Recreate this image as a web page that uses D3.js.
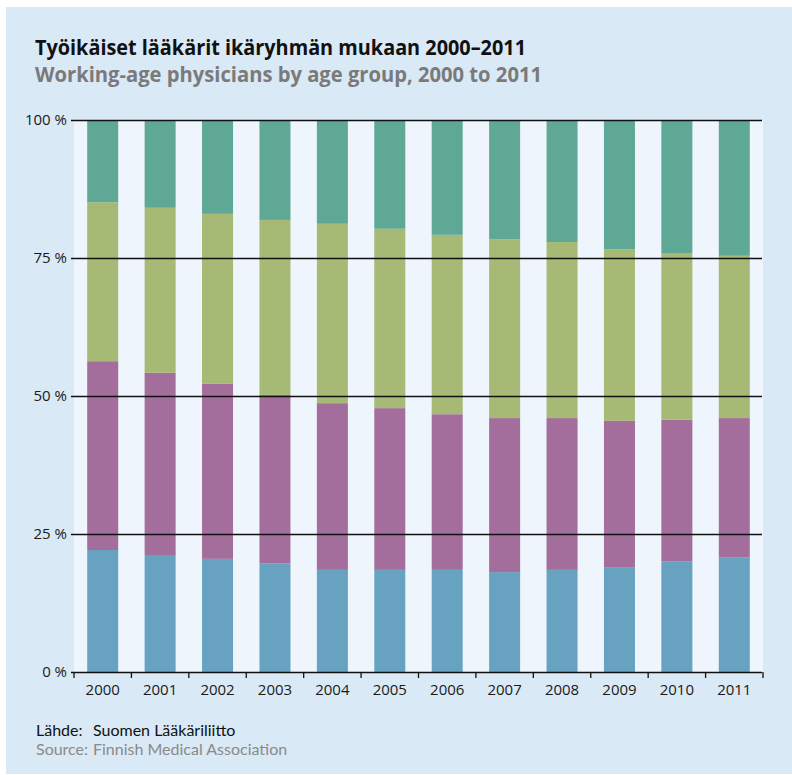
<!DOCTYPE html>
<html>
<head>
<meta charset="utf-8">
<script src="https://cdn.jsdelivr.net/npm/d3@7"></script>
<style>
  html, body { margin: 0; padding: 0; background: #ffffff; }
  svg { display: block; }
  text { font-family: "Open Sans", "Noto Sans", sans-serif; }
</style>
</head>
<body>
<svg id="chart" width="792" height="775"></svg>
<script>
// ---- data ----
const years = ["2000","2001","2002","2003","2004","2005","2006","2007","2008","2009","2010","2011"];
const seriesNames = ["group1", "group2", "group3", "group4"]; // bottom to top
const group1 = [22.1, 21.2, 20.5, 19.7, 18.5, 18.5, 18.5, 18.1, 18.5, 19.0, 20.0, 20.8];
const group2 = [34.2, 33.0, 31.7, 30.5, 30.2, 29.3, 28.2, 27.9, 27.5, 26.5, 25.7, 25.2];
const group3 = [28.8, 29.9, 30.8, 31.7, 32.5, 32.5, 32.5, 32.4, 31.9, 31.1, 30.2, 29.4];
const group4 = [14.9, 15.9, 17.0, 18.1, 18.8, 19.7, 20.8, 21.6, 22.1, 23.4, 24.1, 24.6];
const yTicks = [0, 25, 50, 75, 100];
const yTickLabels = ["0 %", "25 %", "50 %", "75 %", "100 %"];
const titleFi = "Työikäiset lääkärit ikäryhmän mukaan 2000–2011";
const titleEn = "Working-age physicians by age group, 2000 to 2011";
const sourceLabelFi = "Lähde:", sourceFi = "Suomen Lääkäriliitto";
const sourceLabelEn = "Source:", sourceEn = "Finnish Medical Association";

const colors = ["#67a3c0", "#a36e9b", "#a6b975", "#5ea895"];

// ---- build table ----
const table = years.map((yr, i) => ({
  year: yr, group1: group1[i], group2: group2[i], group3: group3[i], group4: group4[i]
}));
const stacked = d3.stack().keys(seriesNames)(table);

const svg = d3.select("#chart");

// panel background
svg.append("rect").attr("x", 6).attr("y", 7).attr("width", 786).attr("height", 767).attr("fill", "#d9e9f6");

const pLeft = 74, pRight = 763, pTop = 120, pBottom = 672;

// plot background
svg.append("rect").attr("x", pLeft).attr("y", pTop).attr("width", pRight - pLeft).attr("height", pBottom - pTop).attr("fill", "#eff5fd");

const x = d3.scaleBand().domain(years).range([pLeft, pRight]).paddingInner(0.46).paddingOuter(0.23);
const y = d3.scaleLinear().domain([0, 100]).range([pBottom, pTop]);

// bars
svg.append("g").selectAll("g").data(stacked).join("g")
  .attr("fill", (d, i) => colors[i])
  .selectAll("rect").data(d => d).join("rect")
  .attr("x", d => x(d.data.year))
  .attr("width", x.bandwidth())
  .attr("y", d => y(Math.min(100, d[1])))
  .attr("height", d => y(d[0]) - y(Math.min(100, d[1])));

// gridlines and y axis
const yAxis = d3.axisLeft(y).tickValues(yTicks).tickFormat((d, i) => yTickLabels[i])
  .tickSizeInner(-(pRight - pLeft) + 1).tickSizeOuter(0).tickPadding(7);
const gy = svg.append("g").attr("transform", `translate(${pLeft},0)`).call(yAxis);
gy.select(".domain").remove();
gy.selectAll(".tick line").attr("stroke", "#111").attr("stroke-width", 1.3).attr("x1", -3);
gy.selectAll(".tick text").style("font-size", "15px").attr("fill", "#1a1a1a")
  .style("font-family", "'Open Sans', sans-serif").attr("x", -7);

// x axis
const xAxis = d3.axisBottom(x).tickSize(0).tickPadding(9);
const gx = svg.append("g").attr("transform", `translate(0,${pBottom})`).call(xAxis);
gx.select(".domain").remove();
gx.selectAll(".tick text").style("font-size", "15px").attr("fill", "#1a1a1a")
  .style("font-family", "'Open Sans', sans-serif").attr("dy", "0.9em");
// boundary tick marks between bands
const bounds = years.map(yr => x(yr) - x.step() * x.paddingInner() / 2);
bounds.push(pRight);
svg.append("g").selectAll("line").data(bounds).join("line")
  .attr("x1", d => d).attr("x2", d => d)
  .attr("y1", pBottom).attr("y2", pBottom + 6)
  .attr("stroke", "#111").attr("stroke-width", 1.3);

// titles
svg.append("text").attr("x", 35).attr("y", 55).text(titleFi)
  .attr("font-size", 21).attr("font-weight", 700).attr("fill", "#111")
  .attr("textLength", 491).attr("lengthAdjust", "spacingAndGlyphs");
svg.append("text").attr("x", 35).attr("y", 82).text(titleEn)
  .attr("font-size", 21).attr("font-weight", 700).attr("fill", "#7a7a7a")
  .attr("textLength", 507).attr("lengthAdjust", "spacingAndGlyphs");

// footer
const foot = svg.append("g");
foot.append("text").attr("x", 36).attr("y", 736).text(sourceLabelFi).attr("fill", "#111");
foot.append("text").attr("x", 93).attr("y", 736).text(sourceFi).attr("fill", "#111");
foot.append("text").attr("x", 36).attr("y", 755).text(sourceLabelEn).attr("fill", "#8a8a8a");
foot.append("text").attr("x", 93).attr("y", 755).text(sourceEn).attr("fill", "#8a8a8a");
foot.selectAll("text").style("font-family", "Lato, 'Open Sans', sans-serif").style("font-size", "16px");
</script>
</body>
</html>
